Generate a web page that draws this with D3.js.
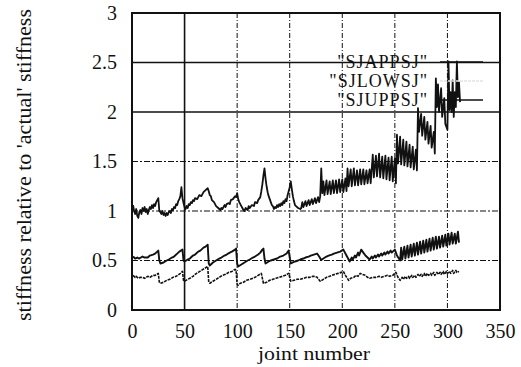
<!DOCTYPE html>
<html>
<head>
<meta charset="utf-8">
<script src="https://cdn.jsdelivr.net/npm/d3@7"></script>
<style>
  body { margin: 0; background: #fff; }
</style>
</head>
<body>
<div id="stiffness"></div>
<script>
// joint number vs stiffness relative to 'actual' stiffness
const seriesNames = ['"SJAPPSJ"', '"SJLOWSJ"', '"SJUPPSJ"'];
const xTicks = [0, 50, 100, 150, 200, 250, 300, 350];
const yTicks = [0, 0.5, 1, 1.5, 2, 2.5, 3];

// top trace
const sjappsj = [
    [1, 1.06], [2, 1.0], [3, 0.97], [4, 1.02], [5, 0.95], [6, 0.93], [7, 0.99], [8, 1.01], [9, 0.97], [10, 1.03],
    [11, 1.0], [12, 1.04], [13, 0.99], [14, 1.02], [15, 0.97], [16, 1.01], [17, 1.04], [18, 1.02], [19, 1.06], [20, 1.03],
    [21, 1.07], [22, 1.05], [23, 1.09], [24, 1.11], [25, 1.13], [26, 1.0], [27, 0.99], [28, 0.97], [29, 1.0], [30, 0.96],
    [31, 0.98], [32, 0.95], [33, 0.98], [34, 0.96], [35, 0.99], [36, 1.0], [37, 0.98], [38, 1.02], [39, 1.01], [40, 1.04],
    [41, 1.03], [42, 1.07], [43, 1.06], [44, 1.1], [45, 1.12], [46, 1.15], [47, 1.24], [48, 1.13], [49, 1.08], [50, 1.04],
    [51, 1.02], [52, 1.05], [53, 1.03], [54, 1.07], [55, 1.06], [56, 1.09], [57, 1.08], [58, 1.11], [59, 1.1], [60, 1.13],
    [62, 1.12], [64, 1.16], [66, 1.15], [68, 1.19], [70, 1.21], [72, 1.23], [73, 1.2], [74, 1.16], [75, 1.15], [76, 1.11],
    [78, 1.09], [80, 1.05], [82, 1.03], [84, 1.01], [85, 1.03], [86, 1.02], [88, 1.06], [89, 1.04], [90, 1.07], [92, 1.08],
    [93, 1.07], [94, 1.11], [96, 1.12], [98, 1.15], [99, 1.14], [100, 1.18], [101, 1.12], [102, 1.09], [104, 1.05], [106, 1.01],
    [107, 1.0], [108, 1.03], [110, 1.01], [111, 1.05], [112, 1.03], [114, 1.06], [116, 1.05], [117, 1.09], [119, 1.08], [120, 1.11],
    [122, 1.14], [123, 1.2], [124, 1.27], [125, 1.36], [126, 1.43], [127, 1.33], [128, 1.25], [129, 1.19], [130, 1.15], [131, 1.12],
    [132, 1.09], [133, 1.06], [134, 1.05], [135, 1.02], [136, 1.04], [137, 1.03], [138, 1.06], [139, 1.04], [140, 1.07], [141, 1.05],
    [142, 1.08], [143, 1.06], [144, 1.1], [145, 1.08], [146, 1.12], [147, 1.1], [148, 1.16], [149, 1.2], [150, 1.24], [151, 1.3],
    [152, 1.22], [153, 1.15], [154, 1.1], [155, 1.06], [156, 1.05], [158, 1.03], [160, 1.02], [161, 1.03],
    [162, 1.09], [163, 1.04], [165, 1.1], [166, 1.05], [168, 1.11], [169, 1.06], [171, 1.12], [172, 1.07], [174, 1.13], [175, 1.08],
    [177, 1.14], [178, 1.09], [179, 1.15], [180, 1.43], [181, 1.18],
    [182, 1.3], [183, 1.16], [185, 1.31], [186, 1.17], [188, 1.3], [189, 1.17], [191, 1.31], [192, 1.18], [194, 1.31], [195, 1.18],
    [197, 1.32], [198, 1.19], [200, 1.32], [201, 1.19], [203, 1.33], [204, 1.2],
    [205, 1.43], [206, 1.25], [208, 1.42], [209, 1.25], [211, 1.43], [212, 1.26], [214, 1.41], [215, 1.26], [217, 1.42], [218, 1.27],
    [220, 1.42], [221, 1.27], [223, 1.41], [224, 1.28], [226, 1.42], [227, 1.28],
    [229, 1.57], [230, 1.34], [232, 1.56], [233, 1.35], [235, 1.58], [236, 1.34], [238, 1.55], [239, 1.33], [241, 1.56], [242, 1.32],
    [244, 1.54], [245, 1.31], [247, 1.55], [248, 1.3], [250, 1.53], [251, 1.28],
    [252, 1.77], [253, 1.48], [255, 1.75], [256, 1.47], [258, 1.72], [259, 1.46], [261, 1.7], [262, 1.45], [264, 1.67], [265, 1.44],
    [267, 1.65], [268, 1.42], [270, 1.62], [271, 1.41],
    [272, 2.04], [273, 1.8], [275, 1.98], [276, 1.76], [278, 1.95], [279, 1.72], [281, 1.9], [282, 1.68], [284, 1.86], [285, 1.64],
    [287, 1.8], [288, 1.58],
    [289, 2.34], [290, 2.05], [291, 2.28], [292, 2.0], [294, 2.24], [295, 1.95], [297, 2.14], [298, 1.88], [300, 1.82],
    [301, 2.51], [302, 2.02], [303, 2.2], [304, 2.0], [305, 2.32], [306, 1.95], [307, 2.2], [308, 2.05], [309, 2.51], [310, 2.15],
    [311, 2.3], [312, 2.1]
];

// bottom trace
const sjlowsj = [
    [1, 0.35], [3, 0.33], [4, 0.34], [6, 0.32], [8, 0.33], [10, 0.33], [12, 0.32], [15, 0.34], [17, 0.33], [20, 0.35],
    [22, 0.35], [25, 0.37], [26, 0.28], [27, 0.27], [30, 0.28], [33, 0.3], [36, 0.31], [39, 0.33], [42, 0.34], [46, 0.37],
    [48, 0.39], [49, 0.3], [50, 0.29], [53, 0.31], [55, 0.32], [58, 0.34], [60, 0.36], [63, 0.38], [66, 0.4], [69, 0.42],
    [72, 0.44], [73, 0.28], [74, 0.27], [77, 0.29], [80, 0.31], [83, 0.33], [86, 0.35], [89, 0.36], [92, 0.38], [95, 0.39],
    [98, 0.41], [99, 0.4], [100, 0.26], [101, 0.25], [103, 0.27], [106, 0.28], [109, 0.3], [112, 0.31], [115, 0.32], [117, 0.33],
    [120, 0.35], [123, 0.37], [124, 0.32], [125, 0.27], [128, 0.28], [131, 0.3], [134, 0.31], [137, 0.32], [140, 0.33], [143, 0.34],
    [146, 0.35], [149, 0.37], [150, 0.33], [151, 0.29], [154, 0.3], [157, 0.31], [160, 0.31], [163, 0.32], [166, 0.33], [169, 0.33],
    [172, 0.34], [174, 0.34], [176, 0.33], [179, 0.29], [182, 0.31], [185, 0.33], [188, 0.34], [190, 0.35], [193, 0.36], [196, 0.37],
    [199, 0.38], [201, 0.39], [203, 0.35], [206, 0.3], [208, 0.32], [211, 0.33], [213, 0.35], [215, 0.34], [217, 0.37], [219, 0.36],
    [222, 0.35], [224, 0.33], [226, 0.32], [229, 0.33], [232, 0.33], [235, 0.34], [237, 0.33], [240, 0.34], [243, 0.35], [245, 0.34],
    [248, 0.35], [251, 0.38], [253, 0.33], [255, 0.3], [257, 0.33], [258, 0.31], [260, 0.34], [261, 0.32], [263, 0.34], [264, 0.32],
    [266, 0.35], [267, 0.33], [269, 0.35], [270, 0.33], [272, 0.36], [273, 0.34], [275, 0.36], [276, 0.34], [278, 0.37], [279, 0.34],
    [281, 0.37], [282, 0.35], [284, 0.37], [285, 0.35], [287, 0.38], [288, 0.35], [290, 0.38], [291, 0.36], [293, 0.38], [294, 0.36],
    [296, 0.39], [297, 0.36], [299, 0.39], [300, 0.37], [302, 0.39], [303, 0.37], [305, 0.4], [306, 0.37], [308, 0.4], [309, 0.38],
    [311, 0.39]
];

// middle trace
const sjuppsj = [
    [1, 0.54], [3, 0.52], [5, 0.53], [7, 0.52], [10, 0.54], [12, 0.53], [15, 0.53], [17, 0.55], [20, 0.56], [22, 0.57],
    [25, 0.6], [26, 0.5], [27, 0.47], [30, 0.48], [33, 0.5], [35, 0.51], [38, 0.53], [40, 0.54], [43, 0.57], [45, 0.59],
    [48, 0.61], [49, 0.5], [50, 0.49], [53, 0.51], [55, 0.52], [58, 0.55], [60, 0.56], [63, 0.59], [65, 0.6], [68, 0.63],
    [70, 0.64], [72, 0.66], [73, 0.47], [74, 0.45], [77, 0.48], [80, 0.5], [83, 0.52], [85, 0.53], [88, 0.55], [90, 0.56],
    [93, 0.58], [95, 0.59], [98, 0.61], [99, 0.62], [100, 0.47], [101, 0.44], [104, 0.46], [107, 0.48], [110, 0.5], [112, 0.51],
    [115, 0.53], [117, 0.54], [120, 0.56], [122, 0.58], [124, 0.61], [125, 0.62], [126, 0.52], [127, 0.47], [130, 0.49], [132, 0.5],
    [135, 0.51], [138, 0.52], [141, 0.54], [144, 0.55], [147, 0.57], [149, 0.6], [150, 0.53], [151, 0.47], [153, 0.48], [155, 0.49],
    [158, 0.5], [160, 0.51], [163, 0.52], [165, 0.53], [168, 0.54], [170, 0.55], [173, 0.56], [176, 0.57], [178, 0.54], [180, 0.505],
    [182, 0.52], [185, 0.54], [187, 0.55], [190, 0.56], [192, 0.57], [195, 0.58], [198, 0.59], [201, 0.61], [204, 0.55], [207, 0.49],
    [209, 0.53], [210, 0.51], [212, 0.55], [213, 0.53], [215, 0.58], [216, 0.55], [218, 0.61], [220, 0.58], [222, 0.55], [224, 0.53],
    [226, 0.51], [228, 0.54], [229, 0.52], [231, 0.55], [232, 0.53], [234, 0.56], [235, 0.54], [237, 0.57], [238, 0.55], [240, 0.58],
    [241, 0.56], [243, 0.59], [244, 0.57], [246, 0.6], [247, 0.58], [250, 0.61], [252, 0.55], [255, 0.5],
    [256, 0.63], [257, 0.51], [259, 0.64], [260, 0.52], [262, 0.65], [263, 0.53], [265, 0.66], [266, 0.54], [268, 0.67], [269, 0.55],
    [271, 0.68], [272, 0.56], [274, 0.69], [275, 0.57], [277, 0.7], [278, 0.58], [280, 0.71], [281, 0.59], [283, 0.72], [284, 0.6],
    [286, 0.73], [287, 0.61], [289, 0.74], [290, 0.62], [292, 0.74], [293, 0.63], [295, 0.75], [296, 0.64], [298, 0.76], [299, 0.65],
    [301, 0.77], [302, 0.66], [304, 0.78], [305, 0.67], [307, 0.77], [308, 0.67], [310, 0.79], [311, 0.68]
];

const seriesValues = [sjappsj, sjlowsj, sjuppsj];

// grid lines that came out solid on the scan
const solidGridY = [2, 2.5];
const solidGridX = [50];

const serif = "'Liberation Serif', 'Times New Roman', 'DejaVu Serif', serif";

const margin = { top: 13, right: 21, bottom: 57, left: 132 },
    width = 521 - margin.left - margin.right,
    height = 367 - margin.top - margin.bottom,
    componentId = 'stiffness';

const svg = d3.select('#' + componentId)
    .append('svg')
    .attr('width', 521)
    .attr('height', 367)
    .attr('font-family', serif);

const g = svg.append('g')
    .attr('transform', `translate(${margin.left},${margin.top})`);

const xScale = d3.scaleLinear().domain([0, 350]).range([0, width]);
const yScale = d3.scaleLinear().domain([0, 3]).range([height, 0]);

// grid
g.append('g')
    .selectAll('line')
    .data(yTicks.slice(1, -1))
    .join('line')
    .attr('x1', 0)
    .attr('x2', width)
    .attr('y1', (d) => yScale(d))
    .attr('y2', (d) => yScale(d))
    .attr('stroke', '#111')
    .attr('stroke-width', (d) => (solidGridY.includes(d) ? 1.6 : 1))
    .attr('stroke-dasharray', (d) => (solidGridY.includes(d) ? null : '6,2,2,2'));

g.append('g')
    .selectAll('line')
    .data(xTicks.slice(1, -1))
    .join('line')
    .attr('y1', 0)
    .attr('y2', height)
    .attr('x1', (d) => xScale(d))
    .attr('x2', (d) => xScale(d))
    .attr('stroke', '#111')
    .attr('stroke-width', (d) => (solidGridX.includes(d) ? 1.6 : 1))
    .attr('stroke-dasharray', (d) => (solidGridX.includes(d) ? null : '5,2,1,2'));

// axes (labels only, frame drawn below)
const xAxis = g.append('g')
    .attr('transform', `translate(0,${height})`)
    .call(d3.axisBottom(xScale).tickValues(xTicks).tickSize(0).tickPadding(14));
const yAxis = g.append('g')
    .call(d3.axisLeft(yScale).tickValues(yTicks).tickSize(0).tickPadding(15)
        .tickFormat((d) => String(d)));
[xAxis, yAxis].forEach((a) => {
    a.attr('font-family', serif).attr('font-size', 20);
    a.select('.domain').remove();
    a.selectAll('text').attr('fill', '#111');
});

// series
const lineGen = d3.line()
    .x((d) => xScale(d[0]))
    .y((d) => yScale(d[1]));

const lineStyles = [
    { width: 1.8, dash: null, color: '#111' },
    { width: 1.6, dash: '3,1', color: '#111' },
    { width: 1.9, dash: null, color: '#111' },
];

seriesValues.forEach((vals, i) => {
    g.append('path')
        .datum(vals)
        .attr('fill', 'none')
        .attr('stroke', lineStyles[i].color)
        .attr('stroke-width', lineStyles[i].width)
        .attr('stroke-dasharray', lineStyles[i].dash)
        .attr('stroke-linejoin', 'round')
        .attr('d', lineGen);
});

// frame
g.append('rect')
    .attr('width', width)
    .attr('height', height)
    .attr('fill', 'none')
    .attr('stroke', '#111')
    .attr('stroke-width', 2);

// key
const key = g.append('g');
seriesNames.forEach((name, i) => {
    const ky = 49 + i * 19;
    key.append('text')
        .attr('x', 428 - margin.left)
        .attr('y', ky)
        .attr('dy', '0.34em')
        .attr('text-anchor', 'end')
        .attr('font-size', 18)
        .attr('letter-spacing', 1)
        .attr('fill', '#111')
        .text(name);
    key.append('line')
        .attr('x1', 440 - margin.left)
        .attr('x2', 483 - margin.left)
        .attr('y1', ky)
        .attr('y2', ky)
        .attr('stroke', i === 1 ? '#e4e4e4' : '#111')
        .attr('stroke-width', 1.6)
        .attr('stroke-dasharray', i === 1 ? '3,1' : null);
});

// axis titles
svg.append('text')
    .attr('x', 314)
    .attr('y', 360)
    .attr('text-anchor', 'middle')
    .attr('font-size', 19)
    .attr('textLength', 112)
    .attr('lengthAdjust', 'spacingAndGlyphs')
    .attr('fill', '#111')
    .text('joint number');

svg.append('text')
    .attr('transform', 'translate(31,165) rotate(-90)')
    .attr('text-anchor', 'middle')
    .attr('font-size', 21)
    .attr('textLength', 312)
    .attr('lengthAdjust', 'spacingAndGlyphs')
    .attr('fill', '#111')
    .text("stiffness relative to 'actual' stiffness");
</script>
</body>
</html>
